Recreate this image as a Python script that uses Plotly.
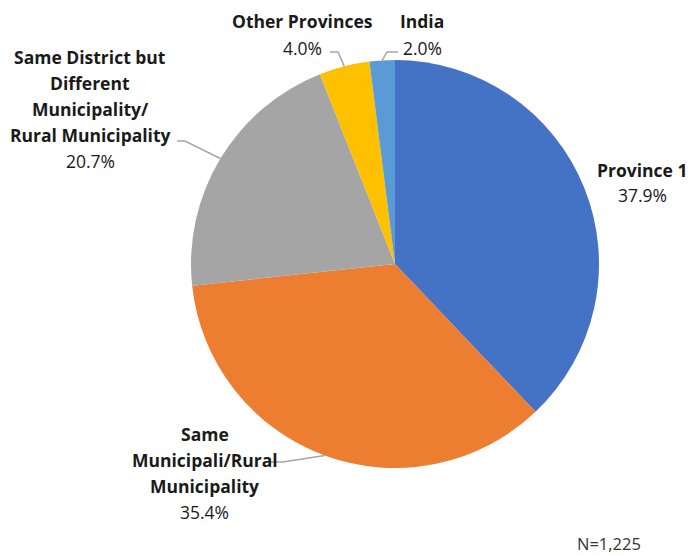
import numpy as np
import plotly.graph_objects as go

# Origin of respondents (N=1,225)
categories = [
    "Province 1",
    "Same Municipali/Rural Municipality",
    "Same District but Different Municipality/ Rural Municipality",
    "Other Provinces",
    "India",
]
label_lines = [
    ["Province 1"],
    ["Same", "Municipali/Rural", "Municipality"],
    ["Same District but", "Different", "Municipality/", "Rural Municipality"],
    ["Other Provinces"],
    ["India"],
]
shares = [37.9, 35.4, 20.7, 4.0, 2.0]
colors = ["#4472C4", "#ED7D31", "#A5A5A5", "#FFC000", "#5B9BD5"]
note = "N=1,225"

W, H = 692, 556
CX, CY, R = 395, 264, 204  # pie centre and radius in pixels
FONT = "'Open Sans', Lato, sans-serif"
FS = 17.5
TXT = "#1a1a1a"
LINE = "#A6A6A6"

fig = go.Figure(
    go.Pie(
        labels=categories,
        values=shares,
        sort=False,
        direction="clockwise",
        rotation=0,
        marker=dict(colors=colors, line=dict(width=0)),
        textinfo="none",
        hoverinfo="label+percent",
        showlegend=False,
        domain=dict(
            x=[(CX - R) / W, (CX + R) / W],
            y=[1 - (CY + R) / H, 1 - (CY - R) / H],
        ),
    )
)

def px(x, y):
    return x / W, 1 - y / H

# label anchor (centre x, y of first line), line height, elbow for leader (None = no leader)
label_pos = [
    dict(x=642, y=170, lh=25, elbow=None),
    dict(x=205, y=434, lh=26, elbow=((270, 462), (283, 462))),
    dict(x=90, y=57, lh=26, elbow=((177, 141), (185, 141))),
    dict(x=302, y=21, lh=27, elbow=((330, 52), (338, 52))),
    dict(x=422, y=21, lh=27, elbow=((398, 52), (387, 52))),
]

annotations = []
shapes = []
cum = np.cumsum([0] + shares)
total = float(sum(shares))
for i, (lines, val, pos) in enumerate(zip(label_lines, shares, label_pos)):
    y = pos["y"]
    for ln in lines:
        ax, ay = px(pos["x"], y)
        annotations.append(dict(
            x=ax, y=ay, xref="paper", yref="paper", text=f"<b>{ln}</b>",
            showarrow=False, xanchor="center", yanchor="middle",
            font=dict(family=FONT, size=FS, color=TXT),
        ))
        y += pos["lh"]
    ax, ay = px(pos["x"], y)
    annotations.append(dict(
        x=ax, y=ay, xref="paper", yref="paper", text=f"{val:.1f}%",
        showarrow=False, xanchor="center", yanchor="middle",
        font=dict(family=FONT, size=FS, color=TXT),
    ))
    if pos["elbow"] is not None:
        mid = (cum[i] + cum[i + 1]) / 2 / total * 2 * np.pi
        ex, ey = CX + R * np.sin(mid), CY - R * np.cos(mid)
        (x0, y0), (x1, y1) = pos["elbow"]
        pts = [px(x0, y0), px(x1, y1), px(ex, ey)]
        path = "M " + " L ".join(f"{p[0]},{p[1]}" for p in pts)
        shapes.append(dict(type="path", xref="paper", yref="paper", path=path,
                           line=dict(color=LINE, width=1.5)))

nx, ny = px(609, 543)
annotations.append(dict(
    x=nx, y=ny, xref="paper", yref="paper", text=note, showarrow=False,
    xanchor="center", yanchor="middle", borderpad=0,
    font=dict(family=FONT, size=16.5, color="#333333"),
))

fig.update_layout(
    width=W, height=H,
    margin=dict(l=0, r=0, t=0, b=0),
    paper_bgcolor="white", plot_bgcolor="white",
    annotations=annotations, shapes=shapes,
)

fig.write_html("out.html")
